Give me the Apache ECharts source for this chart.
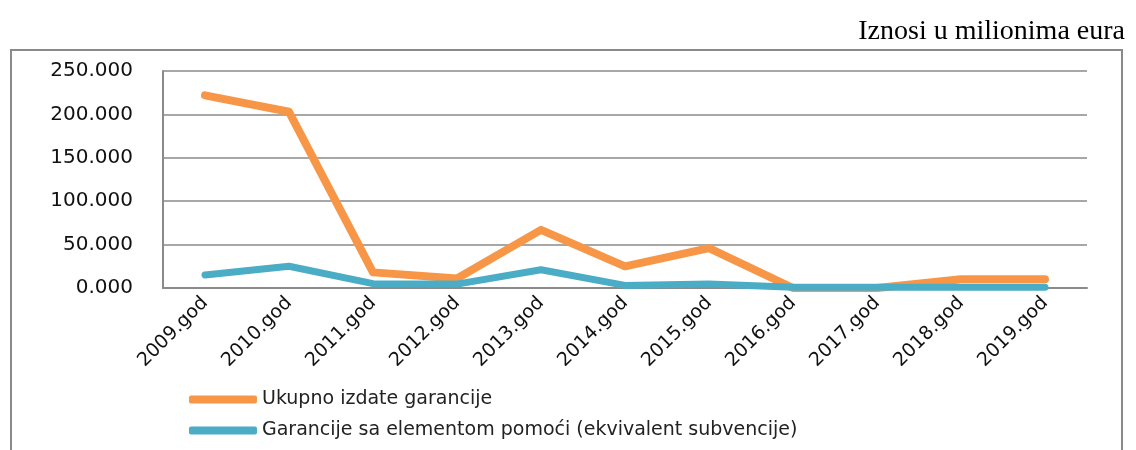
<!DOCTYPE html>
<html>
<head>
<meta charset="utf-8">
<script src="https://cdn.jsdelivr.net/npm/echarts@6/dist/echarts.min.js"></script>
<style>
html,body{margin:0;padding:0;background:#fff;}
#chart{width:1136px;height:450px;}
</style>
</head>
<body>
<div id="chart"></div>
<script>
const categories = ['2009.god','2010.god','2011.god','2012.god','2013.god','2014.god','2015.god','2016.god','2017.god','2018.god','2019.god'];
const seriesNames = ['Ukupno izdate garancije','Garancije sa elementom pomoći (ekvivalent subvencije)'];
const totalIssued = [222, 203, 18, 11, 67, 25, 46, 0, 0, 10, 10];
const aidElement = [15, 25, 5, 4.5, 21, 3, 4.5, 1, 1, 1, 1];
const yTicks = {min: 0, max: 250, interval: 50};
const titleText = 'Iznosi u milionima eura';

const chart = echarts.init(document.getElementById('chart'), null, {renderer: 'canvas'});
const font = 'DejaVu Sans';
chart.setOption({
  animation: false,
  backgroundColor: '#fff',
  title: {
    text: titleText,
    right: 6,
    top: 13,
    textStyle: {fontFamily: 'Liberation Serif', fontSize: 28, fontWeight: 'normal', color: '#000'}
  },
  graphic: [{
    type: 'rect',
    shape: {x: 11, y: 50, width: 1111, height: 420},
    style: {fill: 'none', stroke: '#8a8a8a', lineWidth: 2},
    silent: true
  }],
  grid: {left: 163, right: 49, top: 71, bottom: 162, containLabel: false},
  legend: {
    orient: 'vertical',
    left: 184,
    top: 385,
    itemWidth: 68,
    itemHeight: 8,
    itemGap: 12,
    icon: 'roundRect',
    textStyle: {fontFamily: font, fontSize: 19, color: '#222'},
    data: seriesNames
  },
  xAxis: {
    type: 'category',
    data: categories,
    boundaryGap: true,
    axisLine: {lineStyle: {color: '#8a8a8a', width: 2}},
    axisTick: {show: false},
    axisLabel: {rotate: 45, margin: 12, fontFamily: font, fontSize: 19, color: '#111', interval: 0}
  },
  yAxis: {
    type: 'value',
    min: yTicks.min,
    max: yTicks.max,
    interval: yTicks.interval,
    axisLine: {show: true, lineStyle: {color: '#8a8a8a', width: 2}},
    axisTick: {show: false},
    splitLine: {lineStyle: {color: '#8a8a8a', width: 1.5}},
    axisLabel: {
      margin: 30,
      fontFamily: font,
      fontSize: 20,
      color: '#111',
      formatter: v => v.toFixed(3)
    }
  },
  series: [
    {
      name: seriesNames[0],
      type: 'line',
      data: totalIssued,
      symbol: 'none',
      color: '#F79646',
      lineStyle: {color: '#F79646', width: 8, cap: 'round', join: 'round'},
      z: 3
    },
    {
      name: seriesNames[1],
      type: 'line',
      data: aidElement,
      symbol: 'none',
      color: '#4BACC6',
      lineStyle: {color: '#4BACC6', width: 7, cap: 'round', join: 'round'},
      z: 4
    }
  ]
});
</script>
</body>
</html>
